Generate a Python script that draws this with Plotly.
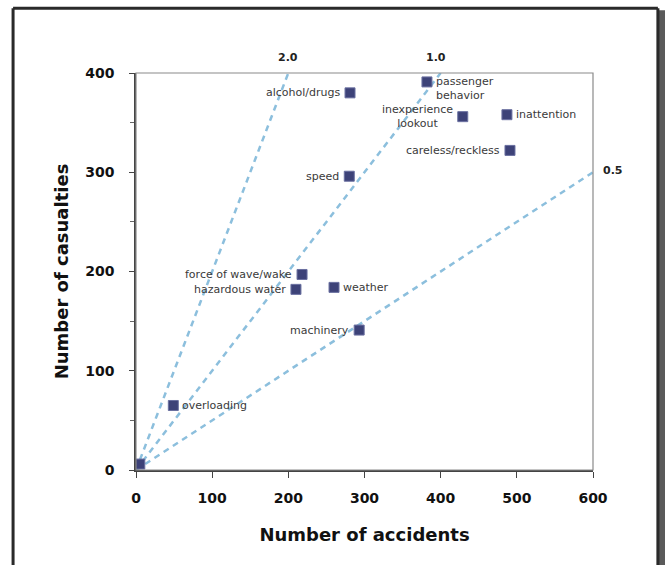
import plotly.graph_objects as go

# ---- data ----
causes = ["passenger<br>behavior", "alcohol/drugs", "inexperience<br>lookout", "inattention",
          "careless/reckless", "speed", "force of wave/wake", "hazardous water",
          "weather", "machinery", "overloading", ""]
accidents = [382, 281, 429, 487, 491, 280, 218, 210, 260, 293, 49, 5]
casualties = [391, 380, 356, 358, 322, 296, 197, 182, 184, 141, 65, 6]
label_side = ["right", "left", "left", "right", "left", "left", "left", "left",
              "right", "left", "right", "none"]

ratios = [2.0, 1.0, 0.5]
ratio_labels = ["2.0", "1.0", "0.5"]
x_max, y_max = 600, 400

x_ticks = [0, 100, 200, 300, 400, 500, 600]
y_ticks = [0, 100, 200, 300, 400]

fig = go.Figure()

# ratio reference lines
line_ends = []
for r in ratios:
    xe = min(x_max, y_max / r)
    ye = r * xe
    line_ends.append((xe, ye))
    fig.add_trace(go.Scatter(x=[0, xe], y=[0, ye], mode="lines",
                             line=dict(color="#8cbfdd", width=2.5, dash="6px,5px"),
                             hoverinfo="skip", showlegend=False))

fig.add_trace(go.Scatter(x=accidents, y=casualties, mode="markers",
                         marker=dict(symbol="square", size=10, color="#3d4278",
                                     line=dict(color="#6a70a0", width=1)),
                         showlegend=False))

annotations = []
lab_font = dict(family="DejaVu Sans, Verdana, sans-serif", size=11, color="#3a3a3a")
for name, xv, yv, side in zip(causes, accidents, casualties, label_side):
    if side == "none" or not name:
        continue
    a = dict(x=xv, y=yv, xref="x", yref="y", text=name, showarrow=False,
             font=lab_font, yanchor="middle")
    if side == "right":
        a.update(xanchor="left", xshift=7, align="left")
    else:
        a.update(xanchor="right", xshift=-8, align="center")
    if name.startswith("passenger"):
        a.update(yshift=-7, align="left")
    annotations.append(a)

bold_font = dict(family="DejaVu Sans, Verdana, sans-serif", size=11, color="#222")
for (xe, ye), lab, r in zip(line_ends, ratio_labels, ratios):
    if ye >= y_max:
        annotations.append(dict(x=xe, y=ye, xref="x", yref="y", text="<b>%s</b>" % lab,
                                showarrow=False, font=bold_font, yanchor="bottom",
                                yshift=7, xshift=-5 if r == 1.0 else 0))
    else:
        annotations.append(dict(x=xe, y=ye, xref="x", yref="y", text="<b>%s</b>" % lab,
                                showarrow=False, font=bold_font, xanchor="left",
                                xshift=8, yshift=2))

# card frame in paper coords (plot area spans 457 x 397 px)
fl, fr, ft, fb = -0.269, 1.142, 1.163, -0.4
shapes = [
    # plot box (top/right light grey)
    dict(type="rect", xref="x domain", yref="y domain", x0=0, x1=1, y0=0, y1=1,
         line=dict(color="#8a8a8a", width=1.2), layer="above"),
    # shadow on right
    dict(type="rect", xref="paper", yref="paper", x0=fr, x1=fr + 0.02, y0=fb, y1=ft - 0.005,
         line=dict(width=0), fillcolor="#5a5a5a", layer="below"),
    # frame lines
    dict(type="line", xref="paper", yref="paper", x0=fl, x1=fr, y0=ft, y1=ft,
         line=dict(color="#2a2a2a", width=3), layer="below"),
    dict(type="line", xref="paper", yref="paper", x0=fl, x1=fl, y0=fb, y1=ft,
         line=dict(color="#2a2a2a", width=3), layer="below"),
    dict(type="line", xref="paper", yref="paper", x0=fr, x1=fr, y0=fb, y1=ft,
         line=dict(color="#2a2a2a", width=3), layer="below"),
]

tick_font = dict(family="DejaVu Sans, sans-serif", size=14, color="#111")
title_font = dict(family="DejaVu Sans, sans-serif", size=18, color="#111")

fig.update_layout(
    width=665, height=565,
    margin=dict(l=136, r=72, t=73, b=95),
    paper_bgcolor="white", plot_bgcolor="white",
    annotations=annotations, shapes=shapes,
    xaxis=dict(range=[0, x_max], tickvals=x_ticks, ticktext=["<b>%d</b>" % v for v in x_ticks],
               showgrid=False, zeroline=False, showline=True, linecolor="#444", linewidth=1.5,
               ticks="outside", ticklen=6, tickcolor="#444", tickfont=tick_font,
               ticklabelstandoff=8,
               title=dict(text="<b>Number of accidents</b>", font=title_font, standoff=24)),
    yaxis=dict(range=[0, y_max], tickvals=y_ticks, ticktext=["<b>%d</b>" % v for v in y_ticks],
               showgrid=False, zeroline=False, showline=True, linecolor="#444", linewidth=1.5,
               ticks="outside", ticklen=5, tickcolor="#444", tickfont=tick_font,
               ticklabelstandoff=12,
               minor=dict(dtick=50, ticks="outside", ticklen=4, tickcolor="#666"),
               title=dict(text="<b>Number of casualties</b>", font=title_font, standoff=12)),
)

fig.write_html("out.html", config={"displayModeBar": False},
               post_script="document.body.style.margin='0';")
